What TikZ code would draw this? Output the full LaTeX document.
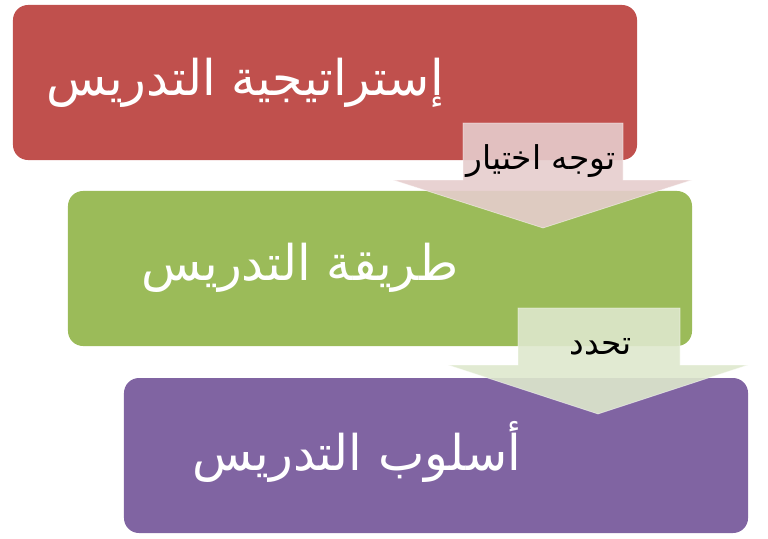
\documentclass[tikz,border=0pt]{standalone}
\usepackage{fontspec}
\newfontfamily\arabicfont[Script=Arabic]{DejaVu Sans}
\TeXXeTstate=1
\usetikzlibrary{positioning}
\definecolor{stratred}{RGB}{192,80,77}
\definecolor{methgreen}{RGB}{155,187,89}
\definecolor{stylepurple}{RGB}{128,100,162}
\definecolor{pinkarrow}{RGB}{230,205,205}
\definecolor{greenarrow}{RGB}{222,232,205}
\tikzstyle{box}=[draw=none, rounded corners=0.45cm, minimum width=18.72cm, minimum height=4.65cm]
\tikzstyle{boxtext}=[text=white, font=\arabicfont\fontsize{42}{50}\selectfont]
\tikzstyle{arrowtext}=[text=black, font=\arabicfont\fontsize{28}{34}\selectfont]
\tikzstyle{blockarrow}=[draw=white, draw opacity=0.5, line width=0.6pt, fill opacity=0.9]

\begin{document}
\begin{tikzpicture}[x=0.03cm, y=-0.03cm]
\useasboundingbox (0,0) rectangle (768,538);
% the three levels
\node [box, fill=stratred] (strat) at (325,82.5) {};
\node [box, fill=methgreen] (meth) at (380,268.5) {};
\node [box, fill=stylepurple] (styl) at (436,455.5) {};
\node [boxtext] (strattext) at (245,83) {\beginR إستراتيجية التدريس\endR};
\node [boxtext] (methtext) at (300,268) {\beginR طريقة التدريس\endR};
\node [boxtext] (styltext) at (357,452) {\beginR أسلوب التدريس\endR};

% arrows between them
\fill [blockarrow, fill=pinkarrow] (463,123) -- (623,123) -- (623,180) -- (692,180)
  -- (543,228) -- (393,180) -- (463,180) -- cycle;
\fill [blockarrow, fill=greenarrow] (518,308) -- (680,308) -- (680,365) -- (748,365)
  -- (598,414) -- (448,365) -- (518,365) -- cycle;
\node [arrowtext] (choose) at (541,161) {\beginR توجه اختيار\endR};
\node [arrowtext] (defines) at (601,347) {\beginR تحدد\endR};
\end{tikzpicture}
\end{document}
